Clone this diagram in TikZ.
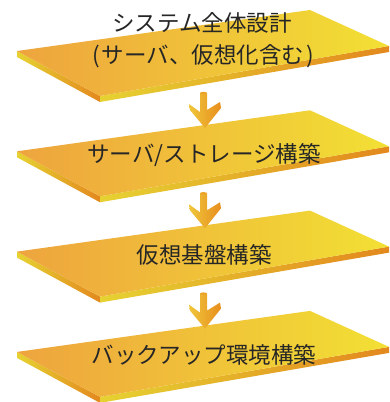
\documentclass[tikz,border=0pt]{standalone}
\usepackage{fontspec}
\usepackage{tikz}
\newfontfamily\jpfont{Noto Sans CJK JP}

\definecolor{plateleft}{HTML}{EEA43E}
\definecolor{platemid}{HTML}{F0C23C}
\definecolor{plateright}{HTML}{F2E034}
\definecolor{sideyellow}{HTML}{E6D232}
\definecolor{sideorange}{HTML}{E3881E}
\definecolor{arrowyellow}{HTML}{EFC63A}
\definecolor{arroworange}{HTML}{E88E1E}
\definecolor{labelgray}{HTML}{262626}

\tikzset{
  topface/.style={left color=plateleft, middle color=platemid, right color=plateright},
  leftface/.style={left color=sideyellow, right color=sideorange},
  rightface/.style={left color=sideyellow, right color=sideorange},
  downarrow/.style={left color=arrowyellow, right color=arroworange},
  label/.style={text=labelgray, font=\jpfont\fontsize{22.5}{27}\selectfont}
}

\begin{document}
\begin{tikzpicture}[x=1pt,y=-1pt]
\useasboundingbox (0,0) rectangle (389,402);

% plates
\shade[leftface] (17,51)--(100,96)--(100,102)--(17,57)--cycle;
\shade[rightface] (100,96)--(389,46)--(389,52)--(100,102)--cycle;
\shade[topface] (17,51)--(310,10)--(389,46)--(100,96)--cycle;

\begin{scope}[yshift=-100.3pt]
\shade[leftface] (17,51)--(100,96)--(100,102)--(17,57)--cycle;
\shade[rightface] (100,96)--(389,46)--(389,52)--(100,102)--cycle;
\shade[topface] (17,51)--(310,10)--(389,46)--(100,96)--cycle;
\end{scope}

\begin{scope}[yshift=-200.6pt]
\shade[leftface] (17,51)--(100,96)--(100,102)--(17,57)--cycle;
\shade[rightface] (100,96)--(389,46)--(389,52)--(100,102)--cycle;
\shade[topface] (17,51)--(310,10)--(389,46)--(100,96)--cycle;
\end{scope}

\begin{scope}[yshift=-300.9pt]
\shade[leftface] (17,51)--(100,96)--(100,102)--(17,57)--cycle;
\shade[rightface] (100,96)--(389,46)--(389,52)--(100,102)--cycle;
\shade[topface] (17,51)--(310,10)--(389,46)--(100,96)--cycle;
\end{scope}

% arrows
\shade[downarrow] (200,93)--(207,93)--(207,110)--(220,102)--(221,108)--(205,128)--(190,110)--(189,104)--(200,112)--cycle;
\fill[arroworange!60!arrowyellow] (203.5,93) ellipse[x radius=3.5, y radius=1.2];

\begin{scope}[yshift=-100.3pt]
\shade[downarrow] (200,93)--(207,93)--(207,110)--(220,102)--(221,108)--(205,128)--(190,110)--(189,104)--(200,112)--cycle;
\fill[arroworange!60!arrowyellow] (203.5,93) ellipse[x radius=3.5, y radius=1.2];
\end{scope}

\begin{scope}[yshift=-200.6pt]
\shade[downarrow] (200,93)--(207,93)--(207,110)--(220,102)--(221,108)--(205,128)--(190,110)--(189,104)--(200,112)--cycle;
\fill[arroworange!60!arrowyellow] (203.5,93) ellipse[x radius=3.5, y radius=1.2];
\end{scope}

% labels
\node[label] (design) at (202,23) {システム全体設計};
\node[label] (designsub) at (203,56) {(\hspace{2pt}サーバ、仮想化含む\hspace{2pt})};
\node[label] (server) at (204,155) {サーバ/ストレージ構築};
\node[label] (virtual) at (204,255) {仮想基盤構築};
\node[label] (backup) at (204,355) {バックアップ環境構築};

\end{tikzpicture}
\end{document}
